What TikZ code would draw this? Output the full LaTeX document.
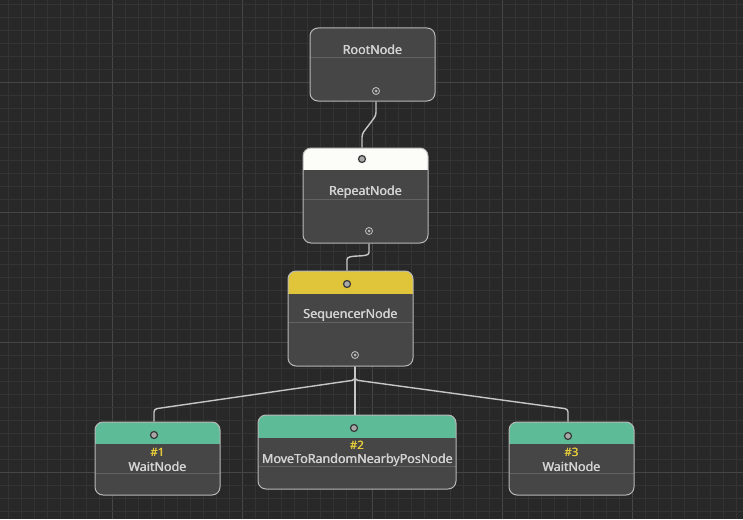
\documentclass[tikz,border=0pt]{standalone}
\usepackage{fontspec}
\setmainfont{Noto Sans}
\newfontfamily\uifont{Noto Sans}
\newcommand\heavytext[1]{\makebox[0pt][l]{#1}\kern0.45pt#1}
\definecolor{bg}{HTML}{282828}
\definecolor{gridminor}{HTML}{343434}
\definecolor{gridmajor}{HTML}{464646}
\definecolor{nodebody}{HTML}{464646}
\definecolor{nodeborder}{HTML}{B8B8B8}
\definecolor{divider}{HTML}{626262}
\definecolor{txt}{HTML}{D4D4D4}
\definecolor{hdrwhite}{HTML}{FCFCF8}
\definecolor{hdryellow}{HTML}{E0C53A}
\definecolor{hdrgreen}{HTML}{5DBB98}
\definecolor{idyellow}{HTML}{E8CE3A}
\definecolor{wirecol}{HTML}{C6C6C6}
\definecolor{portring}{HTML}{383838}
\definecolor{portfill}{HTML}{A8A8A8}
\begin{document}
\begin{tikzpicture}[x=1pt,y=-1pt,
  box/.style n args={3}{draw=nodeborder, line width=1pt, fill=nodebody,
    rounded corners=8pt, inner sep=0pt,
    path picture={
      \fill[#1, sharp corners] (path picture bounding box.north west) rectangle ([yshift=-#2]path picture bounding box.north east);
      \draw[divider, line width=0.8pt, sharp corners] ([yshift=-#3]path picture bounding box.north west) -- ([yshift=-#3]path picture bounding box.north east);
    }},
  title/.style={text=txt, font=\uifont\fontsize{12.5}{13}\selectfont, inner sep=0pt},
  idtext/.style={text=idyellow, font=\uifont\fontsize{11.5}{12}\selectfont, inner sep=0pt},
  inport/.style={circle, draw=portring, line width=1.2pt, fill=portfill, minimum size=7pt, inner sep=0pt},
  outport/.style={circle, draw=nodeborder, line width=0.9pt, fill=nodebody, minimum size=7pt, inner sep=0pt,
    path picture={\fill[nodeborder] (path picture bounding box.center) circle (1.5pt);}},
  wire/.style={draw=wirecol, line width=1.4pt, rounded corners=3pt}
]
\useasboundingbox (0,0) rectangle (743,519);
\fill[bg] (0,0) rectangle (743,519);
% grid
\foreach \k in {0,...,56} {
  \pgfmathtruncatemacro{\m}{mod(\k+2,10)}
  \ifnum\m=0
    \draw[gridmajor, line width=1pt] ({8.3+13*\k},0) -- ({8.3+13*\k},519);
  \else
    \draw[gridminor, line width=0.8pt] ({8.3+13*\k},0) -- ({8.3+13*\k},519);
  \fi
}
\foreach \k in {0,...,39} {
  \pgfmathtruncatemacro{\m}{mod(\k+4,10)}
  \ifnum\m=0
    \draw[gridmajor, line width=1pt] (0,{4.3+13*\k}) -- (743,{4.3+13*\k});
  \else
    \draw[gridminor, line width=0.8pt] (0,{4.3+13*\k}) -- (743,{4.3+13*\k});
  \fi
}

% boxes
\node[box={nodebody}{0pt}{29pt}, minimum width=125pt, minimum height=73pt] (root) at (372.5,64.5) {};
\node[box={hdrwhite}{22pt}{51pt}, minimum width=125pt, minimum height=95pt] (repeat) at (365.5,195.5) {};
\node[box={hdryellow}{23pt}{51pt}, minimum width=125pt, minimum height=95pt] (seq) at (350.5,318.5) {};
\node[box={hdrgreen}{22pt}{51pt}, minimum width=125pt, minimum height=73pt] (wait1) at (157.5,458.5) {};
\node[box={hdrgreen}{23pt}{51pt}, minimum width=198pt, minimum height=74pt] (move) at (357,452) {};
\node[box={hdrgreen}{22pt}{51pt}, minimum width=125pt, minimum height=73pt] (wait3) at (571.5,458.5) {};

% titles
\node[title] (root-t) at (372.5,50) {\heavytext{RootNode}};
\node[title] (repeat-t) at (365.5,192) {\heavytext{RepeatNode}};
\node[title] (seq-t) at (350.5,315) {\heavytext{SequencerNode}};
\node[idtext] (wait1-id) at (157.5,452) {\heavytext{\#1}};
\node[title] (wait1-t) at (157.5,466.5) {\heavytext{WaitNode}};
\node[idtext] (move-id) at (357,445) {\heavytext{\#2}};
\node[title] (move-t) at (357.5,460) {\heavytext{MoveToRandomNearbyPosNode}};
\node[idtext] (wait3-id) at (571.5,452) {\heavytext{\#3}};
\node[title] (wait3-t) at (571.5,466.5) {\heavytext{WaitNode}};

% ports
\node[outport] (root-out) at (376,91) {};
\node[inport] (repeat-in) at (362,159) {};
\node[outport] (repeat-out) at (369,231) {};
\node[inport] (seq-in) at (347,284) {};
\node[outport] (seq-out) at (355,355) {};
\node[inport] (wait1-in) at (154,435) {};
\node[inport] (move-in) at (354,428) {};
\node[inport] (wait3-in) at (568,436) {};

% wires
\draw[wire] (root.south -| root-out) -- ++(0,14) -- (362,134) -- (repeat.north -| repeat-in);
\draw[wire] (repeat.south -| repeat-out) -- ++(0,6) .. controls ++(0,9) and ++(0,-9) .. ([yshift=8pt]seq.north -| seq-in) -- (seq.north -| seq-in);
\draw[wire] (seq.south -| seq-out) -- (355,380) -- (154,409) -- (wait1.north -| wait1-in);
\draw[wire] (seq.south -| seq-out) -- (355,380) -- (568,409) -- (wait3.north -| wait3-in);
\draw[wire] (seq.south -| seq-out) -- (move.north -| seq-out);
\end{tikzpicture}
\end{document}
